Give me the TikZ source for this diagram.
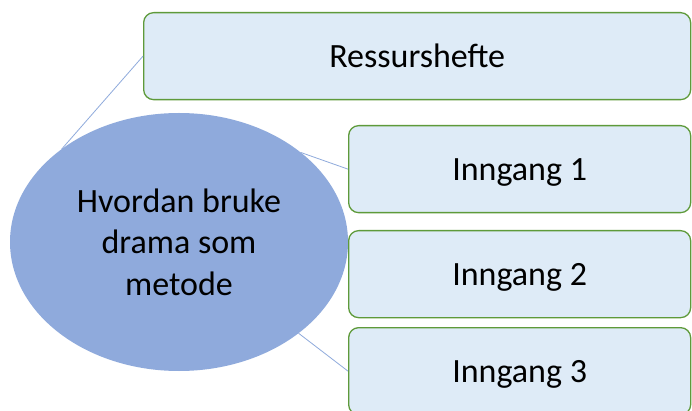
\documentclass[tikz,border=0pt]{standalone}
\usepackage{fontspec}
\setmainfont{Carlito}
\usetikzlibrary{shapes.geometric,calc}
\definecolor{ellfill}{HTML}{8FAADC}
\definecolor{boxfill}{HTML}{DEEBF7}
\definecolor{boxline}{HTML}{5E9A3A}
\definecolor{conn}{HTML}{8FAADC}
\begin{document}
\begin{tikzpicture}[x=1pt,y=-1pt,
  itembox/.style={draw=boxline, line width=1.3pt, fill=boxfill, rounded corners=10pt,
    anchor=north west, inner sep=0pt, text height=26pt, text depth=3pt,
    font=\fontsize{34}{40}\selectfont},
  link/.style={draw=conn, line width=0.8pt}]
\clip (0,0) rectangle (692,411);
\fill[white] (0,0) rectangle (692,411);
\node[ellipse, fill=ellfill, minimum width=338pt, minimum height=258pt, inner sep=0pt,
  align=center, font=\fontsize{34}{41.5}\selectfont] (e) at (179,242) {Hvordan bruke\\drama som\\metode};
\node[itembox, minimum width=547pt, minimum height=87pt] (r) at (143,12) {Ressurshefte};
\node[itembox, minimum width=342pt, minimum height=87pt] (i1) at (348,125) {Inngang 1};
\node[itembox, minimum width=342pt, minimum height=87pt] (i2) at (348,230) {Inngang 2};
\node[itembox, minimum width=342pt, minimum height=87pt] (i3) at (348,327) {Inngang 3};
\draw[link] ([shift={(134:169pt and 129pt)}]e.center) -- (r.west);
\draw[link] ([shift={(44:169pt and 129pt)}]e.center) -- (i1.west);
\draw[link] ([shift={(-45:169pt and 129pt)}]e.center) -- (i3.west);
\end{tikzpicture}
\end{document}
